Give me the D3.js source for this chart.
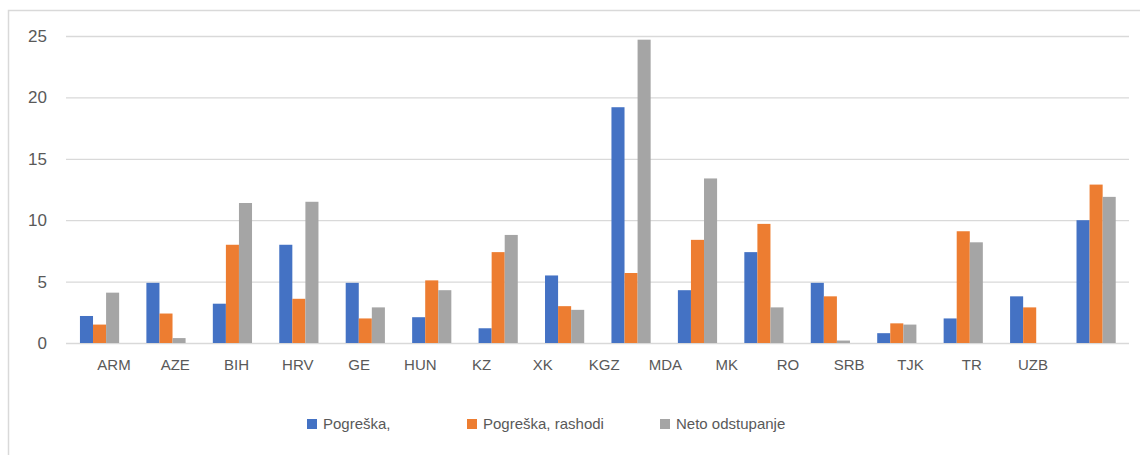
<!DOCTYPE html>
<html>
<head>
<meta charset="utf-8">
<script src="https://cdn.jsdelivr.net/npm/d3@7"></script>
<style>
  html, body { margin: 0; padding: 0; background: #fff; }
  svg { display: block; font-family: "Liberation Sans", Arial, sans-serif; }
</style>
</head>
<body>
<svg id="chart" width="1140" height="455"></svg>
<script>
// ---- data ----
const groups = ["ARM","AZE","BIH","HRV","GE","HUN","KZ","XK","KGZ","MDA","MK","SRB","TJK","TR","UZB","ALL"];
const tickLabels = ["ARM","AZE","BIH","HRV","GE","HUN","KZ","XK","KGZ","MDA","MK","RO","SRB","TJK","TR","UZB"];
const seriesNames = ["Pogreška,", "Pogreška, rashodi", "Neto odstupanje"];
const pogreska = [2.2, 4.9, 3.2, 8.0, 4.9, 2.1, 1.2, 5.5, 19.2, 4.3, 7.4, 4.9, 0.8, 2.0, 3.8, 10.0];
const pogreskaRashodi = [1.5, 2.4, 8.0, 3.6, 2.0, 5.1, 7.4, 3.0, 5.7, 8.4, 9.7, 3.8, 1.6, 9.1, 2.9, 12.9];
const netoOdstupanje = [4.1, 0.4, 11.4, 11.5, 2.9, 4.3, 8.8, 2.7, 24.7, 13.4, 2.9, 0.2, 1.5, 8.2, 0, 11.9];
const yTicks = [0, 5, 10, 15, 20, 25];

// ---- layout ----
const colors = ["#4472C4", "#ED7D31", "#A5A5A5"];
const svg = d3.select("#chart");
const plot = { left: 66, right: 1129, top: 36, bottom: 343 };

// outer border
svg.append("rect")
  .attr("x", 8.5).attr("y", 10.5)
  .attr("width", 1140).attr("height", 460)
  .attr("fill", "none").attr("stroke", "#d9d9d9").attr("stroke-width", 1.5);

const y = d3.scaleLinear().domain([0, 25]).range([plot.bottom, plot.top]);
const x0 = d3.scaleBand().domain(groups).range([plot.left, plot.right]).padding(0);
const x1 = d3.scaleBand().domain(seriesNames)
  .range([x0.bandwidth() * 0.21, x0.bandwidth() * 0.80]).padding(0);

// gridlines
svg.append("g").selectAll("line").data(yTicks).join("line")
  .attr("x1", plot.left).attr("x2", plot.right)
  .attr("y1", d => y(d) + 0.5).attr("y2", d => y(d) + 0.5)
  .attr("stroke", "#d9d9d9").attr("stroke-width", 1.3);

// y tick labels
svg.append("g").selectAll("text").data(yTicks).join("text")
  .attr("x", 47).attr("y", d => y(d))
  .attr("dy", "0.35em")
  .attr("text-anchor", "end")
  .attr("font-size", 17).attr("fill", "#595959")
  .text(d => d);

// bars
const seriesValues = [pogreska, pogreskaRashodi, netoOdstupanje];
const gBars = svg.append("g");
seriesValues.forEach((vals, si) => {
  gBars.append("g").attr("fill", colors[si])
    .selectAll("rect").data(vals).join("rect")
    .attr("x", (d, i) => x0(groups[i]) + x1(seriesNames[si]))
    .attr("width", x1.bandwidth())
    .attr("y", d => y(d))
    .attr("height", d => y(0) - y(d));
});

// category labels
const xl = d3.scalePoint().domain(tickLabels).range([114, 1033]);
svg.append("g").selectAll("text").data(tickLabels).join("text")
  .attr("x", d => xl(d)).attr("y", 370)
  .attr("text-anchor", "middle")
  .attr("font-size", 15).attr("fill", "#595959")
  .text(d => d);

// legend
const legendX = [307, 467, 660];
const leg = svg.append("g");
seriesNames.forEach((name, i) => {
  leg.append("rect")
    .attr("x", legendX[i]).attr("y", 419)
    .attr("width", 10).attr("height", 10)
    .attr("fill", colors[i]);
  leg.append("text")
    .attr("x", legendX[i] + 16).attr("y", 424)
    .attr("dy", "0.35em")
    .attr("font-size", 15).attr("fill", "#595959")
    .text(name);
});
</script>
</body>
</html>
